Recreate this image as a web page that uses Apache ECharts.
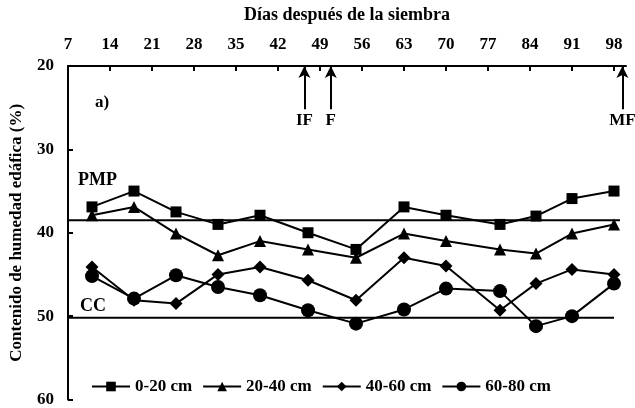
<!DOCTYPE html>
<html><head><meta charset="utf-8">
<script src="https://cdn.jsdelivr.net/npm/echarts@6/dist/echarts.min.js"></script>
<style>html,body{margin:0;padding:0;background:#fff}#c{width:635px;height:408px}</style>
</head><body><div id="c"></div>
<script>
const days = [11,18,25,32,39,47,55,63,70,79,85,91,98];
const s0_20  = [36.9,35.0,37.5,39.0,37.9,40.0,42.0,36.9,37.9,39.0,38.0,35.9,35.0];
const s20_40 = [37.9,36.9,40.1,42.7,41.0,42.0,43.0,40.1,41.0,42.0,42.5,40.1,39.0];
const s40_60 = [44.1,48.1,48.5,45.0,44.1,45.7,48.1,43.0,44.0,49.3,46.1,44.4,45.0];
const s60_80 = [45.2,47.9,45.1,46.5,47.5,49.3,50.9,49.2,46.7,47.0,51.2,50.0,46.1];
const seriesNames = ['0-20 cm','20-40 cm','40-60 cm','60-80 cm'];
const pmpLevel = 38.5, ccLevel = 50.2;
const xTickLabels = [7,14,21,28,35,42,49,56,63,70,77,84,91,98];
const events = [{name:'IF', day:46.4},{name:'F', day:50.8},{name:'MF', day:99.4}];

const font = 'Liberation Serif';
const txt = (size) => ({fontFamily: font, fontWeight: 'bold', fontSize: size, color: '#000'});
const zip = (xs, ys) => xs.map((x, i) => [x, ys[i]]);
const lineStyle = {color: '#000', width: 2};
function dataSeries(name, vals, symbol, size) {
  return {name, type: 'line', data: zip(days, vals), symbol, symbolSize: size,
    itemStyle: {color: '#000'}, lineStyle, z: 3};
}
const chart = echarts.init(document.getElementById('c'), null, {renderer: 'canvas'});
chart.setOption({
  animation: false,
  backgroundColor: '#fff',
  grid: {left: 67, right: 9, top: 66, bottom: 6},
  xAxis: {
    type: 'value', position: 'top', min: 7, max: 100, interval: 7,
    name: 'Días después de la siembra', nameLocation: 'middle', nameGap: 42,
    nameTextStyle: txt(18),
    axisLine: {show: true, lineStyle: {color: '#000', width: 2}},
    axisTick: {inside: true, length: 5, lineStyle: {color: '#000', width: 2}, customValues: xTickLabels},
    axisLabel: Object.assign({margin: 13, customValues: xTickLabels}, txt(17)),
    splitLine: {show: false}
  },
  yAxis: {
    type: 'value', inverse: true, min: 20, max: 60, interval: 10,
    name: 'Contenido de humedad edáfica (%)', nameLocation: 'middle', nameGap: 43,
    nameTextStyle: txt(17),
    axisLine: {show: true, lineStyle: {color: '#000', width: 2}},
    axisTick: {inside: true, length: 5, lineStyle: {color: '#000', width: 2}},
    axisLabel: Object.assign({margin: 14}, txt(17)),
    splitLine: {show: false}
  },
  legend: {
    data: seriesNames, left: 86, top: 373, itemWidth: 38, itemHeight: 12, itemGap: 10,
    textStyle: txt(17)
  },
  series: [
    dataSeries(seriesNames[0], s0_20, 'rect', 11),
    dataSeries(seriesNames[1], s20_40, 'triangle', 12),
    dataSeries(seriesNames[2], s40_60, 'diamond', 13),
    dataSeries(seriesNames[3], s60_80, 'circle', 14),
    {name: 'PMP', type: 'line', data: [[7, pmpLevel], [99, pmpLevel]], showSymbol: false, symbol: 'none',
      lineStyle, z: 2, silent: true,
      markLine: {
        silent: true, symbol: ['none', 'arrow'], symbolSize: [9, 12],
        lineStyle: {color: '#000', width: 2, type: 'solid'},
        label: {show: true, position: 'start', distance: 3, fontFamily: font, fontWeight: 'bold', fontSize: 17, color: '#000'},
        data: events.map(e => [
          {coord: [e.day, 25.2], name: e.name, label: {formatter: e.name}},
          {coord: [e.day, 20]}
        ])
      }
    },
    {name: 'CC', type: 'line', data: [[7, ccLevel], [98, ccLevel]], showSymbol: false, symbol: 'none',
      lineStyle, z: 2, silent: true}
  ],
  graphic: [
    {type: 'text', left: 95, top: 94, style: {text: 'a)', font: 'bold 17px "Liberation Serif"', fill: '#000'}},
    {type: 'text', left: 78, top: 171, style: {text: 'PMP', font: 'bold 18px "Liberation Serif"', fill: '#000'}},
    {type: 'text', left: 80, top: 297, style: {text: 'CC', font: 'bold 18px "Liberation Serif"', fill: '#000'}}
  ]
});
</script>
</body></html>
